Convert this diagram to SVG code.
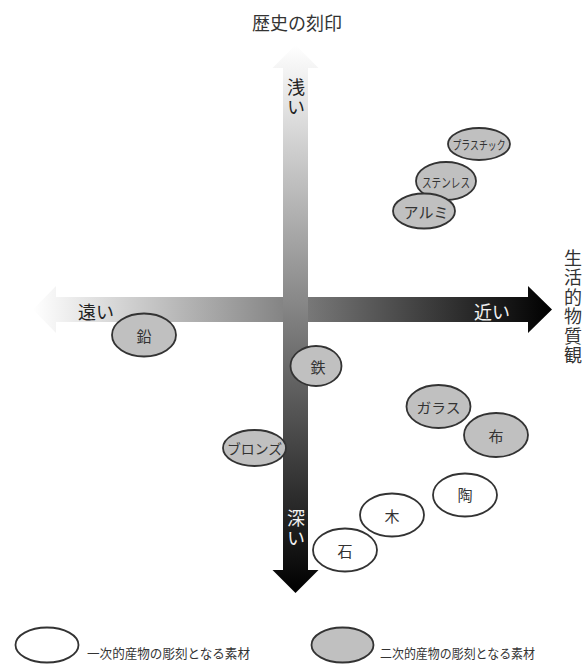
<svg xmlns="http://www.w3.org/2000/svg" width="588" height="666" viewBox="0 0 588 666">
<style>
text{font-family:"Noto Sans CJK JP","Noto Sans",sans-serif;fill:#333;text-anchor:middle;dominant-baseline:central}
.prim{fill:#fff;stroke:#333;stroke-width:1.8}
.sec{fill:#c0c0c0;stroke:#333;stroke-width:1.8}
.lbl{font-size:15px}
.axis{font-size:18px;fill:#222}
.inv{font-size:18px;fill:#f2f2f2}
.vert{writing-mode:vertical-rl;text-anchor:start;letter-spacing:2px}
.leg{font-size:13px;text-anchor:start}
</style>
<defs>
<linearGradient id="gh" x1="33" y1="0" x2="552" y2="0" gradientUnits="userSpaceOnUse">
<stop offset="0" stop-color="#ffffff"/>
<stop offset="1" stop-color="#000000"/>
</linearGradient>
<linearGradient id="gv" x1="0" y1="45" x2="0" y2="593" gradientUnits="userSpaceOnUse">
<stop offset="0" stop-color="#ffffff"/>
<stop offset="1" stop-color="#000000"/>
</linearGradient>
</defs>
<rect width="588" height="666" fill="#fff"/>
<text x="297" y="22" style="font-size:18px">歴史の刻印</text>
<g id="connectors">
<polygon id="axis-h" points="33,309.5 56,286 56,297 528,297 528,286 552,309.5 528,333 528,322 56,322 56,333" fill="url(#gh)"/>
<polygon id="axis-v" points="295.5,45 318.5,68 308,68 308,570 318.5,570 295.5,593 272.5,570 283,570 283,68 272.5,68" fill="url(#gv)"/>
</g>
<g id="axis-labels">
<text class="axis" x="96" y="311">遠い</text>
<text class="inv" x="492" y="311">近い</text>
<text class="axis vert" x="296" y="78">浅い</text>
<text class="inv vert" x="296" y="509">深い</text>
<text class="vert" x="573" y="249" style="font-size:18px;letter-spacing:1.5px">生活的物質観</text>
</g>
<g id="n-plastic"><ellipse class="sec" cx="479" cy="144" rx="31" ry="16"/><text x="479" y="144" style="font-size:12px" textLength="53" lengthAdjust="spacingAndGlyphs">プラスチック</text></g>
<g id="n-stainless"><ellipse class="sec" cx="446" cy="181" rx="30" ry="19"/><text x="446" y="181" style="font-size:13px" textLength="48" lengthAdjust="spacingAndGlyphs">ステンレス</text></g>
<g id="n-alumi"><ellipse class="sec" cx="424" cy="211" rx="31" ry="17.5"/><text class="lbl" x="426" y="211">アルミ</text></g>
<g id="n-lead"><ellipse class="sec" cx="144" cy="335" rx="32" ry="21.5"/><text class="lbl" x="144" y="335">鉛</text></g>
<g id="n-iron"><ellipse class="sec" cx="316" cy="366" rx="25.5" ry="20"/><text class="lbl" x="318" y="366">鉄</text></g>
<g id="n-bronze"><ellipse class="sec" cx="254.5" cy="448" rx="31.5" ry="18"/><text x="254.5" y="448" style="font-size:14px" textLength="55" lengthAdjust="spacingAndGlyphs">ブロンズ</text></g>
<g id="n-glass"><ellipse class="sec" cx="438.5" cy="406.5" rx="32" ry="21.5"/><text x="438.5" y="406.5" style="font-size:14px" textLength="44" lengthAdjust="spacingAndGlyphs">ガラス</text></g>
<g id="n-cloth"><ellipse class="sec" cx="496" cy="435" rx="32" ry="22"/><text class="lbl" x="496" y="435">布</text></g>
<g id="n-ceramic"><ellipse class="prim" cx="465" cy="495" rx="32" ry="21.5"/><text class="lbl" x="465" y="494">陶</text></g>
<g id="n-wood"><ellipse class="prim" cx="392" cy="515" rx="32" ry="21.5"/><text class="lbl" x="392" y="515">木</text></g>
<g id="n-stone"><ellipse class="prim" cx="345" cy="550" rx="32" ry="21.5"/><text class="lbl" x="345" y="550">石</text></g>
<g id="legend-primary"><ellipse class="prim" cx="47" cy="645" rx="31.5" ry="17.5"/><text class="leg" x="87" y="652" textLength="163" lengthAdjust="spacingAndGlyphs">一次的産物の彫刻となる素材</text></g>
<g id="legend-secondary"><ellipse class="sec" cx="342.5" cy="645" rx="31" ry="17.5"/><text class="leg" x="380" y="652" textLength="155" lengthAdjust="spacingAndGlyphs">二次的産物の彫刻となる素材</text></g>
</svg>
